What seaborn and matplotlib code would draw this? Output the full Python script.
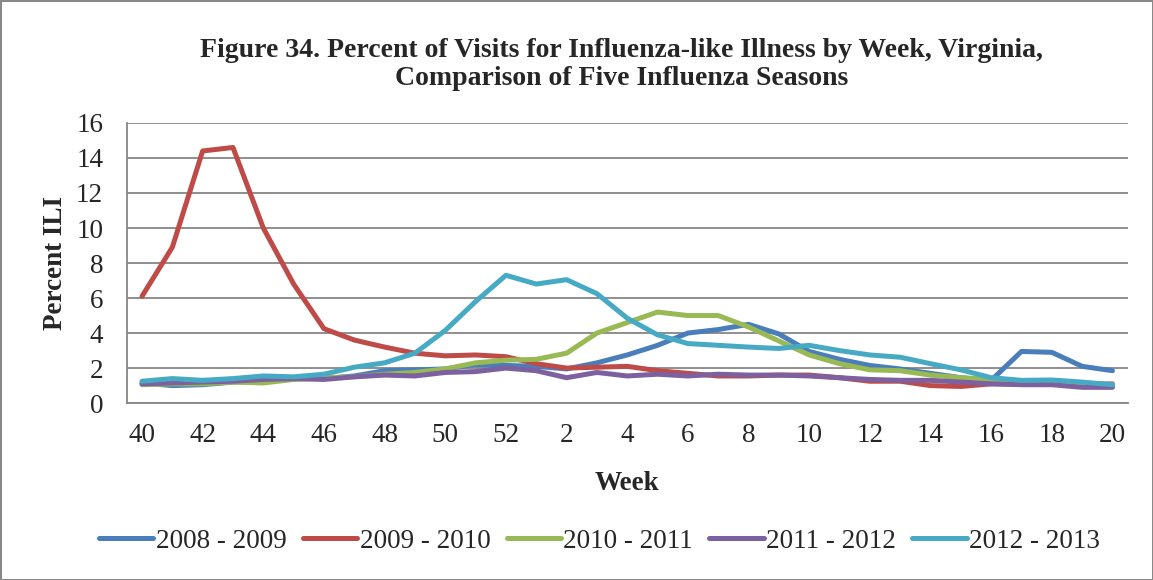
import pandas as pd
import numpy as np
import seaborn as sns
import matplotlib.pyplot as plt
from matplotlib import ticker

weeks = [40, 41, 42, 43, 44, 45, 46, 47, 48, 49, 50, 51, 52,
         1, 2, 3, 4, 5, 6, 7, 8, 9, 10, 11, 12, 13, 14, 15, 16, 17, 18, 19, 20]

s0809 = [1.15, 1.0, 1.05, 1.2, 1.3, 1.4, 1.4, 1.55, 1.85, 1.9, 1.95, 2.2, 2.15,
         2.1, 1.95, 2.3, 2.75, 3.3, 4.0, 4.2, 4.5, 3.95, 2.95, 2.5, 2.15,
         1.95, 1.7, 1.45, 1.3, 2.95, 2.9, 2.1, 1.85]
s0910 = [6.1, 8.9, 14.4, 14.6, 10.0, 6.8, 4.25, 3.6, 3.2, 2.85, 2.7, 2.75, 2.65,
         2.25, 2.0, 2.05, 2.1, 1.85, 1.7, 1.55, 1.55, 1.6, 1.6, 1.45, 1.25,
         1.25, 1.0, 0.95, 1.1, 1.1, 1.1, 1.05, 1.1]
s1011 = [1.05, 1.1, 1.1, 1.2, 1.15, 1.35, 1.45, 1.5, 1.65, 1.75, 1.95, 2.3, 2.45,
         2.5, 2.85, 4.0, 4.6, 5.2, 5.0, 5.0, 4.35, 3.55, 2.75, 2.25, 1.9,
         1.85, 1.6, 1.45, 1.35, 1.25, 1.25, 1.15, 1.05]
s1112 = [1.1, 1.15, 1.2, 1.25, 1.35, 1.4, 1.35, 1.5, 1.6, 1.55, 1.75, 1.8, 2.0,
         1.85, 1.45, 1.75, 1.55, 1.65, 1.55, 1.65, 1.6, 1.6, 1.55, 1.45, 1.35,
         1.3, 1.3, 1.2, 1.1, 1.05, 1.05, 0.9, 0.9]
s1213 = [1.25, 1.4, 1.3, 1.4, 1.55, 1.5, 1.65, 2.05, 2.3, 2.85, 4.15, 5.8, 7.3,
         6.8, 7.05, 6.25, 4.85, 3.9, 3.4, 3.3, 3.2, 3.12, 3.3, 3.0, 2.75,
         2.62, 2.25, 1.9, 1.45, 1.3, 1.32, 1.2, 1.05]

seasons = ['2008 - 2009', '2009 - 2010', '2010 - 2011', '2011 - 2012', '2012 - 2013']
colors = ['#4A7EBB', '#BE4B48', '#98B954', '#7D60A0', '#46AAC5']

pos = np.arange(len(weeks))
df = pd.DataFrame({
    'pos': np.tile(pos, 5),
    'value': s0809 + s0910 + s1011 + s1112 + s1213,
    'season': np.repeat(seasons, len(weeks)),
})

sns.set_style('white')
plt.rcParams['font.family'] = ['Liberation Serif', 'DejaVu Serif']

fig = plt.figure(figsize=(11.53, 5.80), dpi=100)
fig.patch.set_edgecolor('#888888')
fig.patch.set_linewidth(2)
ax = fig.add_axes([0.110, 0.305, 0.868, 0.483])

sns.lineplot(data=df, x='pos', y='value', hue='season', palette=colors,
             linewidth=3.6, ax=ax, legend=True)

ax.set_xlim(-0.5, len(weeks) - 0.5)
ax.set_ylim(0, 16)
ax.set_yticks(range(0, 17, 2))
ax.set_xticks(pos[::2])
ax.set_xticklabels([str(w) for w in weeks[::2]])
ax.xaxis.set_minor_locator(ticker.FixedLocator(np.arange(-0.5, len(weeks) - 1, 2)))
ax.tick_params(axis='x', which='major', length=0, labelsize=19.5, pad=14)
ax.tick_params(axis='x', which='minor', length=4.5, color='#868686', width=1.2, direction='out')
ax.tick_params(axis='y', which='major', length=6, color='#868686', width=1.2,
               direction='out', labelsize=19.5, pad=11)
ax.grid(axis='y', color='#868686', linewidth=1.3)
for side in ['top', 'right']:
    ax.spines[side].set_visible(False)
for side in ['left', 'bottom']:
    ax.spines[side].set_color('#868686')
    ax.spines[side].set_linewidth(1.3)

ax.set_xlabel('Week', fontsize=19.5, fontweight='bold', labelpad=17)
ax.set_ylabel('Percent ILI', fontsize=19.5, fontweight='bold', labelpad=6)

fig.suptitle('Figure 34. Percent of Visits for Influenza-like Illness by Week, Virginia,\n'
             'Comparison of Five Influenza Seasons',
             x=0.539, y=0.935, fontsize=20, fontweight='bold', linespacing=1.2)

handles, labels = ax.get_legend_handles_labels()
ax.legend_.remove()
fig.legend(handles, labels, loc='center', bbox_to_anchor=(0.52, 0.067), ncol=5,
           frameon=False, fontsize=19.5, handlelength=2.0, handletextpad=0.1,
           columnspacing=0.6)

plt.savefig('out.png', dpi=100)
